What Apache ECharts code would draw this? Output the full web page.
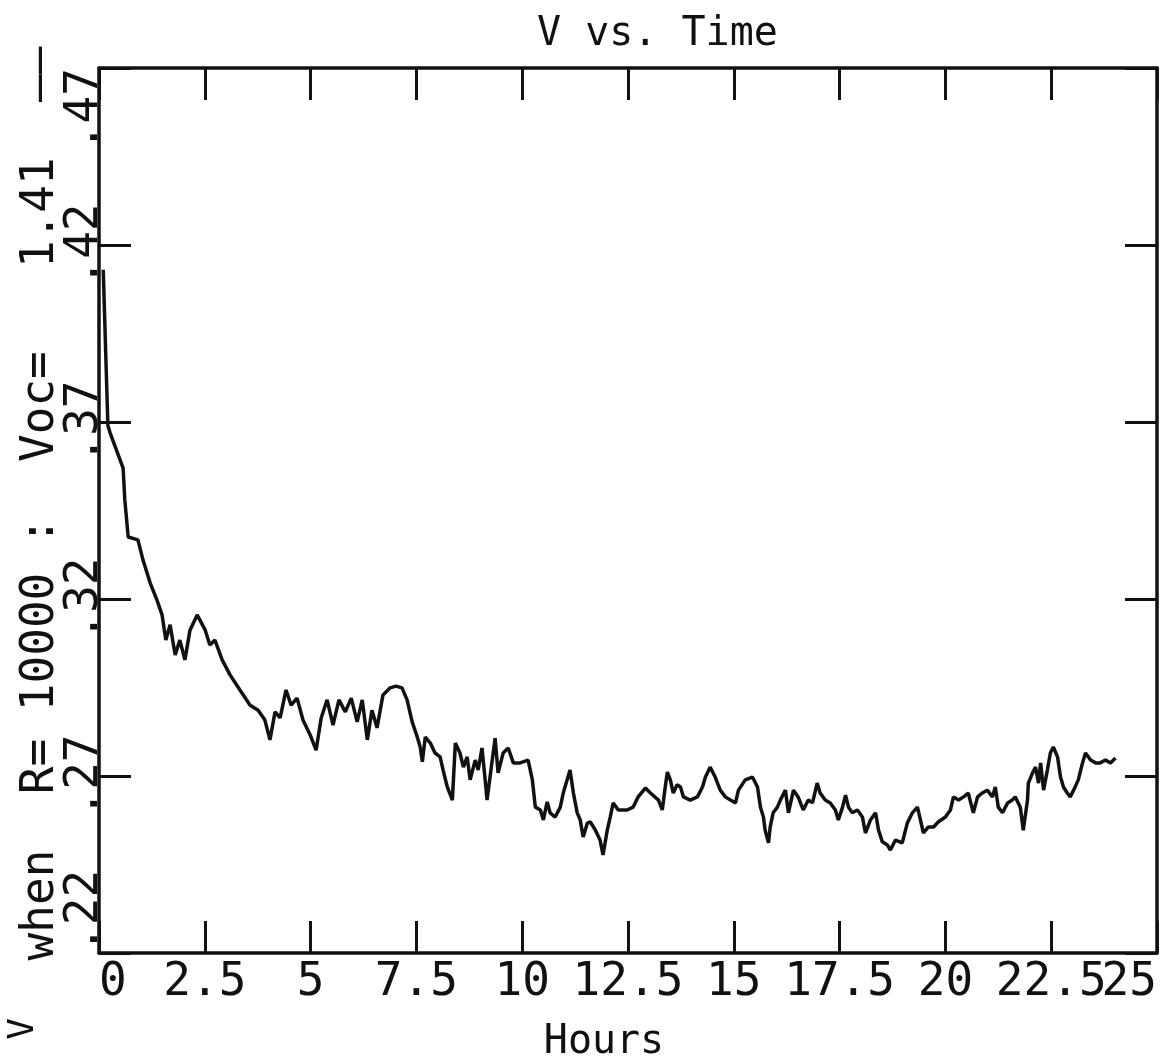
<!DOCTYPE html>
<html>
<head>
<meta charset="utf-8">
<title>V vs. Time</title>
<script src="https://cdn.jsdelivr.net/npm/echarts@6/dist/echarts.min.js"></script>
<style>
  html, body { margin: 0; padding: 0; background: #fff; }
  #chart { width: 1165px; height: 1062px; }
</style>
</head>
<body>
<div id="chart"></div>
<script>
// time in hours, V in volts
const hours = [
  0.10, 0.21, 0.26, 0.57, 0.61, 0.69, 0.92, 1.04, 1.21, 1.37,
  1.49, 1.58, 1.68, 1.80, 1.91, 2.03, 2.15, 2.32, 2.51, 2.62,
  2.74, 2.91, 3.10, 3.33, 3.57, 3.76, 3.92, 4.04, 4.16, 4.28,
  4.42, 4.54, 4.68, 4.82, 4.99, 5.13, 5.25, 5.39, 5.53, 5.67,
  5.82, 5.96, 6.10, 6.22, 6.34, 6.45, 6.57, 6.71, 6.88, 7.02,
  7.16, 7.28, 7.40, 7.52, 7.59, 7.64, 7.71, 7.83, 7.94, 8.06,
  8.13, 8.23, 8.35, 8.42, 8.53, 8.61, 8.70, 8.77, 8.89, 8.96,
  9.05, 9.13, 9.17, 9.24, 9.36, 9.43, 9.55, 9.67, 9.79, 9.95,
  10.14, 10.24, 10.31, 10.43, 10.50, 10.59, 10.66, 10.78, 10.90, 10.97,
  11.06, 11.13, 11.21, 11.30, 11.37, 11.44, 11.54, 11.61, 11.73, 11.84,
  11.91, 12.01, 12.08, 12.15, 12.27, 12.48, 12.62, 12.74, 12.91, 13.03,
  13.22, 13.31, 13.38, 13.43, 13.50, 13.57, 13.66, 13.74, 13.81, 13.97,
  14.14, 14.26, 14.33, 14.44, 14.56, 14.68, 14.80, 14.92, 15.04, 15.11,
  15.27, 15.44, 15.56, 15.63, 15.70, 15.74, 15.82, 15.86, 15.93, 16.03,
  16.10, 16.22, 16.29, 16.41, 16.52, 16.64, 16.76, 16.86, 16.97, 17.04,
  17.16, 17.28, 17.40, 17.47, 17.57, 17.64, 17.71, 17.80, 17.92, 18.04,
  18.11, 18.23, 18.35, 18.42, 18.51, 18.63, 18.70, 18.82, 18.98, 19.10,
  19.22, 19.34, 19.41, 19.48, 19.60, 19.72, 19.83, 20.00, 20.12, 20.19,
  20.31, 20.43, 20.54, 20.66, 20.76, 20.87, 20.99, 21.11, 21.18, 21.25,
  21.35, 21.47, 21.58, 21.65, 21.77, 21.84, 21.94, 21.96, 22.06, 22.13,
  22.20, 22.25, 22.32, 22.41, 22.48, 22.55, 22.65, 22.72, 22.79, 22.88,
  22.95, 23.03, 23.14, 23.24, 23.31, 23.43, 23.55, 23.66, 23.78, 23.90,
  24.02
];
const volts = [
  0.413, 0.369, 0.367, 0.357, 0.348, 0.3375, 0.3367, 0.331, 0.3245, 0.3197,
  0.3155, 0.3084, 0.3127, 0.3042, 0.3084, 0.3028, 0.3112, 0.3155, 0.3112, 0.3070,
  0.3084, 0.3028, 0.2985, 0.2943, 0.2900, 0.2886, 0.2858, 0.2802, 0.2881, 0.2864,
  0.2943, 0.2900, 0.2920, 0.2858, 0.2816, 0.2773, 0.2864, 0.2915, 0.2844, 0.2915,
  0.2881, 0.2920, 0.2853, 0.2915, 0.2802, 0.2886, 0.2836, 0.2929, 0.2949, 0.2954,
  0.2949, 0.2915, 0.2853, 0.2810, 0.2782, 0.2740, 0.2810, 0.2793, 0.2765, 0.2754,
  0.2717, 0.2669, 0.2632, 0.2793, 0.2765, 0.2725, 0.2754, 0.2689, 0.2745, 0.2717,
  0.2779, 0.2683, 0.2632, 0.2697, 0.2807, 0.2709, 0.2765, 0.2779, 0.2737, 0.2737,
  0.2745, 0.2689, 0.2612, 0.2604, 0.2576, 0.2627, 0.2596, 0.2584, 0.2612, 0.2652,
  0.2689, 0.2717, 0.2652, 0.2596, 0.2576, 0.2528, 0.2567, 0.2570, 0.2547, 0.2519,
  0.2477, 0.2547, 0.2584, 0.2624, 0.2604, 0.2604, 0.2612, 0.2641, 0.2666, 0.2652,
  0.2632, 0.2604, 0.2669, 0.2711, 0.2689, 0.2652, 0.2675, 0.2669, 0.2641, 0.2632,
  0.2641, 0.2669, 0.2697, 0.2725, 0.2697, 0.2660, 0.2641, 0.2632, 0.2624, 0.2660,
  0.2689, 0.2697, 0.2669, 0.2612, 0.2584, 0.2547, 0.2511, 0.2556, 0.2596, 0.2612,
  0.2632, 0.2660, 0.2596, 0.2660, 0.2641, 0.2604, 0.2632, 0.2624, 0.2680, 0.2652,
  0.2632, 0.2624, 0.2604, 0.2576, 0.2612, 0.2646, 0.2612, 0.2596, 0.2604, 0.2584,
  0.2539, 0.2576, 0.2596, 0.2547, 0.2514, 0.2505, 0.2491, 0.2519, 0.2511, 0.2567,
  0.2596, 0.2612, 0.2576, 0.2539, 0.2556, 0.2556, 0.2570, 0.2584, 0.2604, 0.2641,
  0.2632, 0.2641, 0.2652, 0.2596, 0.2641, 0.2652, 0.2660, 0.2641, 0.2669, 0.2612,
  0.2596, 0.2624, 0.2632, 0.2641, 0.2612, 0.2547, 0.2632, 0.2680, 0.2709, 0.2725,
  0.2680, 0.2737, 0.2660, 0.2717, 0.2765, 0.2782, 0.2754, 0.2697, 0.2669, 0.2652,
  0.2641, 0.2660, 0.2689, 0.2737, 0.2765, 0.2745, 0.2737, 0.2737, 0.2745, 0.2737,
  0.2751
];

const xTickLabels = ['0', '2.5', '5', '7.5', '10', '12.5', '15', '17.5', '20', '22.5', '25'];
const yTickLabels = ['.22', '.27', '.32', '.37', '.42', '.47'];

const xMin = 0, xMax = 25, xStep = 2.5;
const yMin = 0.22, yMax = 0.47, yStep = 0.05;

const ink = '#111';
const mono = 'DejaVu Sans Mono';

const chart = echarts.init(document.getElementById('chart'), null, { renderer: 'canvas' });

function xIndex(v) {
    return Math.round((v - xMin) / xStep);
}

// shared style for the box axes (opposite sides, ticks only)
function boxAxis(extra) {
    return Object.assign({
        type: 'value',
        axisLine: { show: true, onZero: false, lineStyle: { color: ink, width: 3.5 } },
        axisTick: { show: true, inside: true, length: 32, lineStyle: { color: ink, width: 3 } },
        axisLabel: { show: false },
        splitLine: { show: false }
    }, extra);
}

const xLabelStyle = {
    show: true,
    margin: 7,
    color: ink,
    fontFamily: mono,
    fontSize: 46,
    showMinLabel: true,
    showMaxLabel: true,
    hideOverlap: false
};

const option = {
    backgroundColor: '#fff',
    animation: false,
    title: {
        text: 'V vs. Time',
        left: 532,
        top: 10,
        textStyle: { fontFamily: mono, fontSize: 40, fontWeight: 'normal', color: ink }
    },
    grid: {
        left: 99,
        right: 8,
        top: 68,
        bottom: 109,
        containLabel: false,
        outerBoundsMode: 'none'
    },
    xAxis: [
        boxAxis({
            position: 'bottom',
            min: xMin, max: xMax, interval: xStep,
            name: 'Hours',
            nameLocation: 'middle',
            nameGap: 70,
            nameMoveOverlap: false,
            nameTextStyle: { fontFamily: mono, fontSize: 40, color: ink, padding: [0, 48, 0, 0] },
            axisLabel: Object.assign({}, xLabelStyle, {
                alignMinLabel: 'left',
                // last label is drawn by the axis below, squeezed against the frame
                formatter: v => xIndex(v) < xTickLabels.length - 1 ? xTickLabels[xIndex(v)] : ''
            })
        }),
        boxAxis({ position: 'top', min: xMin, max: xMax, interval: xStep }),
        {
            type: 'value',
            position: 'bottom',
            min: xMin, max: xMax, interval: xStep,
            axisLine: { show: false },
            axisTick: { show: false },
            splitLine: { show: false },
            axisLabel: Object.assign({}, xLabelStyle, {
                alignMaxLabel: 'right',
                formatter: v => xIndex(v) === xTickLabels.length - 1 ? xTickLabels[xIndex(v)] : ''
            })
        }
    ],
    yAxis: [
        boxAxis({
            position: 'left',
            min: yMin, max: yMax, interval: yStep,
            name: 'when  R= 10000 :  Voc=   1.41  \u2014\u2014',
            nameLocation: 'middle',
            nameRotate: 90,
            nameGap: 35,
            nameMoveOverlap: false,
            nameTextStyle: { fontFamily: mono, fontSize: 46, color: ink, padding: [0, 0, 0, 14] },
            axisLabel: {
                show: true,
                rotate: 90,
                margin: -9,
                color: ink,
                fontFamily: mono,
                fontSize: 46,
                showMinLabel: true,
                showMaxLabel: true,
                alignMinLabel: 'left',
                alignMaxLabel: 'right',
                formatter: v => yTickLabels[Math.round((v - yMin) / yStep)]
            }
        }),
        boxAxis({ position: 'right', min: yMin, max: yMax, interval: yStep })
    ],
    graphic: [{
        type: 'text',
        x: 24,
        y: 1029,
        rotation: Math.PI / 2,
        style: {
            text: 'V',
            font: '36px "DejaVu Sans Mono"',
            fill: ink,
            align: 'center',
            verticalAlign: 'middle'
        }
    }],
    series: [{
        type: 'line',
        xAxisIndex: 0,
        yAxisIndex: 0,
        data: hours.map((h, i) => [h, volts[i]]),
        showSymbol: false,
        symbol: 'none',
        lineStyle: { color: ink, width: 3.5 },
        silent: true
    }]
};

chart.setOption(option);
</script>
</body>
</html>
